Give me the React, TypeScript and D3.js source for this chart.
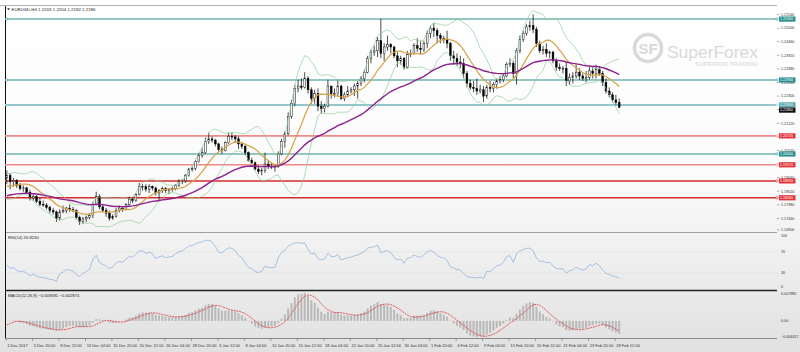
import React, { useEffect, useRef } from 'react';
import * as d3 from 'd3';

// EURUSD H4 chart (grouped as 8-hour bars)
const chartTitle = 'EURUSD,H4 1.2203 1.2204 1.2182 1.2186';
const rsiTitle = 'RSI(14) 26.8230';

// closes of the last bars of November (warm-up for the indicators)
const preCloses = [1.1935, 1.1920, 1.1905, 1.1895, 1.1860, 1.1845, 1.1840, 1.1855, 1.1850, 1.1860, 1.1890, 1.1905];

const closes = [
  1.1915, 1.1890, 1.1895,
  1.1875, 1.1862, 1.1865, 1.1848, 1.1825, 1.1830, 1.1812, 1.1800, 1.1797, 1.1788, 1.1775, 1.1770, 1.1745, 1.1770, 1.1775,
  1.1785, 1.1780, 1.1775, 1.1748, 1.1732, 1.1742, 1.1748, 1.1755, 1.1800, 1.1830, 1.1790, 1.1775, 1.1765, 1.1745, 1.1752,
  1.1775, 1.1785, 1.1780, 1.1800, 1.1820, 1.1815, 1.1840, 1.1870, 1.1870, 1.1860, 1.1870, 1.1865, 1.1845, 1.1855, 1.1862,
  1.1855, 1.1858, 1.1862, 1.1875, 1.1890, 1.1893, 1.1915, 1.1940, 1.1942, 1.1970, 1.1995, 1.2005,
  1.2050, 1.2060, 1.2055, 1.2040, 1.2018, 1.2015, 1.2045, 1.2070, 1.2068, 1.2060, 1.2040, 1.2030,
  1.2005, 1.1975, 1.1965, 1.1940, 1.1930, 1.1935, 1.1960, 1.1950, 1.1950, 1.1950, 1.2000, 1.2050, 1.2080, 1.2150, 1.2200,
  1.2260, 1.2270, 1.2265, 1.2300, 1.2255, 1.2220, 1.2240, 1.2190, 1.2180, 1.2190, 1.2270, 1.2240, 1.2240, 1.2270, 1.2220,
  1.2235, 1.2250, 1.2255, 1.2270, 1.2280, 1.2300, 1.2325, 1.2380, 1.2405, 1.2410, 1.2450, 1.2400, 1.2425, 1.2435, 1.2425,
  1.2390, 1.2370, 1.2380, 1.2345, 1.2395, 1.2400, 1.2430, 1.2420, 1.2415, 1.2440, 1.2480, 1.2500, 1.2490, 1.2470, 1.2460,
  1.2455, 1.2440, 1.2390, 1.2380, 1.2365, 1.2360, 1.2320, 1.2280, 1.2265, 1.2260, 1.2250, 1.2255, 1.2230, 1.2265, 1.2260,
  1.2275, 1.2290, 1.2295, 1.2310, 1.2355, 1.2360, 1.2320, 1.2410, 1.2455, 1.2480, 1.2505, 1.2510, 1.2495, 1.2440, 1.2410,
  1.2415, 1.2400, 1.2405, 1.2370, 1.2345, 1.2340, 1.2340, 1.2290, 1.2305, 1.2310, 1.2325, 1.2310, 1.2300, 1.2305, 1.2330,
  1.2320, 1.2335, 1.2320, 1.2285, 1.2250, 1.2235, 1.2215, 1.2205, 1.2186,
];

const highs = [
  1.1935, 1.1925, 1.1905,
  1.1900, 1.1885, 1.1875, 1.1870, 1.1858, 1.1840, 1.1838, 1.1825, 1.1815, 1.1805, 1.1795, 1.1785, 1.1775, 1.1780, 1.1795,
  1.1790, 1.1800, 1.1790, 1.1780, 1.1755, 1.1750, 1.1755, 1.1765, 1.1810, 1.1850, 1.1840, 1.1800, 1.1785, 1.1775, 1.1760,
  1.1785, 1.1795, 1.1790, 1.1805, 1.1830, 1.1830, 1.1845, 1.1885, 1.1880, 1.1880, 1.1880, 1.1875, 1.1870, 1.1860, 1.1870,
  1.1868, 1.1865, 1.1870, 1.1880, 1.1900, 1.1900, 1.1920, 1.1945, 1.1950, 1.1975, 1.2005, 1.2025,
  1.2065, 1.2085, 1.2070, 1.2060, 1.2045, 1.2030, 1.2050, 1.2085, 1.2085, 1.2075, 1.2070, 1.2045,
  1.2035, 1.2010, 1.1985, 1.1970, 1.1955, 1.1945, 1.2005, 1.1975, 1.1965, 1.1960, 1.2010, 1.2060, 1.2090, 1.2165, 1.2215,
  1.2275, 1.2295, 1.2300, 1.2325, 1.2310, 1.2265, 1.2255, 1.2260, 1.2210, 1.2200, 1.2295, 1.2270, 1.2260, 1.2295, 1.2275,
  1.2245, 1.2270, 1.2265, 1.2280, 1.2290, 1.2310, 1.2335, 1.2390, 1.2415, 1.2430, 1.2465, 1.2537, 1.2440, 1.2470, 1.2440,
  1.2430, 1.2405, 1.2390, 1.2385, 1.2410, 1.2415, 1.2440, 1.2460, 1.2450, 1.2450, 1.2490, 1.2510, 1.2520, 1.2500, 1.2480,
  1.2470, 1.2490, 1.2445, 1.2410, 1.2400, 1.2390, 1.2380, 1.2330, 1.2295, 1.2290, 1.2300, 1.2275, 1.2270, 1.2275, 1.2290,
  1.2285, 1.2300, 1.2310, 1.2320, 1.2365, 1.2380, 1.2370, 1.2420, 1.2470, 1.2490, 1.2515, 1.2530, 1.2555, 1.2505, 1.2450,
  1.2430, 1.2440, 1.2410, 1.2410, 1.2380, 1.2360, 1.2350, 1.2365, 1.2320, 1.2325, 1.2355, 1.2340, 1.2320, 1.2330, 1.2345,
  1.2345, 1.2355, 1.2350, 1.2330, 1.2300, 1.2265, 1.2245, 1.2235, 1.2220,
];

const lows = [
  1.1880, 1.1860, 1.1870,
  1.1865, 1.1855, 1.1850, 1.1840, 1.1815, 1.1815, 1.1805, 1.1792, 1.1790, 1.1780, 1.1765, 1.1760, 1.1730, 1.1735, 1.1765,
  1.1765, 1.1770, 1.1768, 1.1740, 1.1718, 1.1722, 1.1730, 1.1740, 1.1745, 1.1795, 1.1780, 1.1770, 1.1750, 1.1735, 1.1738,
  1.1748, 1.1768, 1.1770, 1.1775, 1.1795, 1.1805, 1.1810, 1.1835, 1.1855, 1.1850, 1.1845, 1.1855, 1.1835, 1.1815, 1.1845,
  1.1845, 1.1840, 1.1850, 1.1855, 1.1870, 1.1880, 1.1885, 1.1910, 1.1930, 1.1935, 1.1965, 1.1985,
  1.2000, 1.2040, 1.2045, 1.2030, 1.2010, 1.2000, 1.2010, 1.2040, 1.2055, 1.2045, 1.2020, 1.2020,
  1.1995, 1.1970, 1.1960, 1.1935, 1.1920, 1.1915, 1.1925, 1.1940, 1.1940, 1.1930, 1.1945, 1.1995, 1.2025, 1.2075, 1.2140,
  1.2190, 1.2245, 1.2255, 1.2260, 1.2240, 1.2200, 1.2200, 1.2170, 1.2160, 1.2165, 1.2185, 1.2220, 1.2225, 1.2230, 1.2215,
  1.2210, 1.2225, 1.2240, 1.2230, 1.2220, 1.2270, 1.2285, 1.2320, 1.2360, 1.2390, 1.2385, 1.2380, 1.2370, 1.2410, 1.2400,
  1.2380, 1.2345, 1.2355, 1.2335, 1.2340, 1.2385, 1.2395, 1.2405, 1.2395, 1.2405, 1.2420, 1.2460, 1.2465, 1.2440, 1.2440,
  1.2440, 1.2420, 1.2370, 1.2355, 1.2350, 1.2340, 1.2300, 1.2265, 1.2255, 1.2245, 1.2235, 1.2240, 1.2206, 1.2220, 1.2245,
  1.2245, 1.2260, 1.2280, 1.2285, 1.2305, 1.2345, 1.2300, 1.2275, 1.2400, 1.2445, 1.2470, 1.2490, 1.2480, 1.2425, 1.2400,
  1.2395, 1.2385, 1.2380, 1.2360, 1.2330, 1.2330, 1.2320, 1.2270, 1.2275, 1.2280, 1.2300, 1.2295, 1.2290, 1.2285, 1.2295,
  1.2300, 1.2300, 1.2310, 1.2270, 1.2240, 1.2225, 1.2205, 1.2195, 1.2182,
];

// level of the slow moving average just before the first bar
const purpleSeed = 1.1830;

const priceTicks = [1.1690, 1.1744, 1.1798, 1.1852, 1.1906, 1.1960, 1.2014, 1.2068, 1.2122,
  1.2176, 1.2230, 1.2284, 1.2338, 1.2392, 1.2446, 1.2500, 1.2554];

const levelPrices = [1.2536, 1.2294, 1.2195, 1.2072, 1.2000, 1.1957, 1.1893, 1.1826];
const levelKinds = ['teal', 'teal', 'pale', 'pink', 'teal', 'pink', 'red', 'red'];
const bidPrice = 1.2186;

const rsiTicks = [100, 70, 30, 0];

const dateLabels = [
  '1 Dec 2017', '5 Dec 20:00', '8 Dec 12:00', '13 Dec 04:00', '15 Dec 20:00', '20 Dec 12:00',
  '26 Dec 04:00', '28 Dec 20:00', '3 Jan 12:00', '8 Jan 04:00', '10 Jan 20:00', '15 Jan 12:00',
  '18 Jan 04:00', '22 Jan 20:00', '25 Jan 12:00', '30 Jan 04:00', '1 Feb 20:00', '6 Feb 12:00',
  '9 Feb 04:00', '13 Feb 20:00', '16 Feb 12:00', '21 Feb 04:00', '23 Feb 20:00', '28 Feb 12:00',
];

const W = 800;
const H = 352;
const FONT = '"Liberation Sans", Arial, sans-serif';

function ema(values: number[], period: number, seed: number) {
  const a = 2 / (period + 1);
  let e = seed;
  return values.map((v) => (e = e + a * (v - e)));
}

function rsiCalc(values: number[], n: number) {
  const out = values.map(() => NaN);
  let g = 0, l = 0;
  for (let i = 1; i <= n; i++) {
    const d = values[i] - values[i - 1];
    if (d > 0) g += d; else l -= d;
  }
  g /= n; l /= n;
  out[n] = 100 - 100 / (1 + g / l);
  for (let i = n + 1; i < values.length; i++) {
    const d = values[i] - values[i - 1];
    g = (g * (n - 1) + Math.max(d, 0)) / n;
    l = (l * (n - 1) + Math.max(-d, 0)) / n;
    out[i] = l === 0 ? 100 : 100 - 100 / (1 + g / l);
  }
  return out;
}

export default function App() {
  const ref = useRef<SVGSVGElement>(null);

  useEffect(() => {
    drawChart();
  }, []);

  function drawChart() {
    const svg = d3.select(ref.current);
    svg.selectAll('*').remove();

    const all = preCloses.concat(closes);
    const off = preCloses.length;
    const n = closes.length;

    // indicators
    const bbPeriod = 10;
    const mid: number[] = [], upper: number[] = [], lower: number[] = [];
    for (let k = 0; k < n; k++) {
      const win = all.slice(k + off - bbPeriod + 1, k + off + 1);
      const m = d3.mean(win) as number;
      const sd = Math.sqrt(d3.mean(win, (v) => (v - m) * (v - m)) as number);
      mid.push(m); upper.push(m + 2 * sd); lower.push(m - 2 * sd);
    }
    const purple = ema(closes, 40, purpleSeed);
    const rsiAll = rsiCalc(all, 10);
    const rsi = rsiAll.slice(off);
    const e6 = ema(all, 6, all[0]);
    const e13 = ema(all, 13, all[0]);
    const macdAll = all.map((_, i) => e6[i] - e13[i]);
    const sigAll = macdAll.map((_, i) => (i < 4 ? NaN : (d3.mean(macdAll.slice(i - 4, i + 1)) as number)));
    const macd = macdAll.slice(off);
    const signal = sigAll.slice(off);

    const x = d3.scaleLinear().domain([0, n - 1]).range([6.8, 619.2]);
    const y = d3.scaleLinear().domain([1.1690, 1.2580]).range([232, 8]);
    const yR = d3.scaleLinear().domain([0, 100]).range([289, 236]);
    const mMin = d3.min(macd) as number;
    const mMax = d3.max(macd) as number;
    const yM = d3.scaleLinear().domain([mMin, mMax]).range([337, 293]);

    const defs = svg.append('defs');
    const grad = defs.append('linearGradient').attr('id', 'bg').attr('x1', 0).attr('y1', 0).attr('x2', 0).attr('y2', 1);
    grad.append('stop').attr('offset', '0%').attr('stop-color', '#ffffff');
    grad.append('stop').attr('offset', '50%').attr('stop-color', '#fbfbfb');
    grad.append('stop').attr('offset', '100%').attr('stop-color', '#e1e1e1');
    defs.append('clipPath').attr('id', 'mainClip').append('rect').attr('x', 5).attr('y', 6).attr('width', 772).attr('height', 226);
    defs.append('clipPath').attr('id', 'rsiClip').append('rect').attr('x', 5).attr('y', 233).attr('width', 772).attr('height', 57);

    svg.append('rect').attr('width', W).attr('height', H).attr('fill', 'url(#bg)');

    // watermark
    const wm = svg.append('g').attr('fill', '#d9d9d9');
    wm.append('circle').attr('cx', 648).attr('cy', 48).attr('r', 13.5)
      .attr('fill', 'none').attr('stroke', '#d9d9d9').attr('stroke-width', 3.5);
    wm.append('text').attr('x', 648).attr('y', 54).attr('text-anchor', 'middle')
      .style('font-family', FONT).style('font-weight', 'bold').style('font-size', '15px').text('SF');
    wm.append('text').attr('x', 667).attr('y', 58).attr('textLength', 91).attr('lengthAdjust', 'spacingAndGlyphs')
      .style('font-family', FONT).style('font-size', '17px').text('SuperForex');
    wm.append('text').attr('x', 695).attr('y', 65.5).attr('textLength', 63).attr('lengthAdjust', 'spacingAndGlyphs')
      .attr('fill', '#dedede').style('font-family', FONT).style('font-weight', 'bold').style('font-size', '5.5px')
      .text('SUPERIOR TRADING');

    // frame
    svg.append('line').attr('x1', 0).attr('x2', 777).attr('y1', 5.5).attr('y2', 5.5).attr('stroke', '#b4b4b4');
    svg.append('line').attr('x1', 5).attr('x2', 777).attr('y1', 232.5).attr('y2', 232.5).attr('stroke', '#a0a0a0');
    svg.append('line').attr('x1', 5).attr('x2', 777).attr('y1', 290.5).attr('y2', 290.5).attr('stroke', '#222').attr('stroke-width', 1.6);
    svg.append('line').attr('x1', 5).attr('x2', 777).attr('y1', 338.5).attr('y2', 338.5).attr('stroke', '#8a8a8a');
    svg.append('line').attr('x1', 5.5).attr('x2', 5.5).attr('y1', 6).attr('y2', 338).attr('stroke', '#111');

    // price axis labels
    const axisG = svg.append('g').style('font-family', FONT).style('font-size', '3.7px').attr('fill', '#333');
    priceTicks.forEach((p) => {
      const ty = Math.min(y(p), 229.8);
      axisG.append('line').attr('x1', 777).attr('x2', 779.5).attr('y1', ty).attr('y2', ty).attr('stroke', '#666').attr('stroke-width', 0.5);
      axisG.append('text').attr('x', 781).attr('y', ty + 1.3).text(d3.format('.5f')(p));
    });

    // horizontal levels
    const levelColor: Record<string, string> = { teal: '#2a8f8c', pale: '#94c7cc', pink: '#ee8a8a', red: '#d42c2c' };
    const boxColor: Record<string, string> = { teal: '#2a8f8c', pale: '#5aa9ad', pink: '#e3343a', red: '#e3343a' };
    const levelWidth: Record<string, number> = { teal: 1.1, pale: 2, pink: 1.6, red: 1.5 };
    const lv = svg.append('g');
    levelPrices.forEach((p, i) => {
      const kind = levelKinds[i];
      lv.append('line').attr('x1', 5).attr('x2', 777).attr('y1', y(p)).attr('y2', y(p))
        .attr('stroke', levelColor[kind]).attr('stroke-width', levelWidth[kind]);
      lv.append('circle').attr('cx', 777).attr('cy', y(p)).attr('r', 1.2).attr('fill', '#fff').attr('stroke', levelColor[kind]).attr('stroke-width', 0.6);
      if (i < 2) lv.append('circle').attr('cx', 6.5).attr('cy', y(p)).attr('r', 1.2).attr('fill', '#fff').attr('stroke', levelColor[kind]).attr('stroke-width', 0.6);
    });

    // main chart
    const main = svg.append('g').attr('clip-path', 'url(#mainClip)');
    const candles = main.append('g');
    closes.forEach((c, k) => {
      const o = k === 0 ? preCloses[preCloses.length - 1] : closes[k - 1];
      const hi = Math.max(highs[k], o, c);
      const lo = Math.min(lows[k], o, c);
      candles.append('line').attr('x1', x(k)).attr('x2', x(k)).attr('y1', y(hi)).attr('y2', y(lo))
        .attr('stroke', '#000').attr('stroke-width', 0.7);
      const top = y(Math.max(o, c));
      const h = Math.max(0.7, y(Math.min(o, c)) - top);
      candles.append('rect').attr('x', x(k) - 0.9).attr('y', top).attr('width', 1.8).attr('height', h)
        .attr('fill', c >= o ? '#fff' : '#000').attr('stroke', '#000').attr('stroke-width', 0.45);
    });

    const line = (vals: number[], sy: d3.ScaleLinear<number, number>) =>
      d3.line<number>().defined((v) => !isNaN(v)).x((_, i) => x(i)).y((v) => sy(v)).curve(d3.curveLinear)(vals);

    main.append('path').attr('d', line(upper, y)).attr('fill', 'none').attr('stroke', '#8fcf98').attr('stroke-width', 0.7);
    main.append('path').attr('d', line(lower, y)).attr('fill', 'none').attr('stroke', '#8fcf98').attr('stroke-width', 0.7);
    main.append('path').attr('d', line(mid, y)).attr('fill', 'none').attr('stroke', '#d6a145').attr('stroke-width', 1.2);
    main.append('path').attr('d', line(purple, y)).attr('fill', 'none').attr('stroke', '#8e1f8e').attr('stroke-width', 1.4);

    // price boxes
    const boxes = svg.append('g').style('font-family', FONT).style('font-size', '3.6px');
    levelPrices.forEach((p, i) => {
      const kind = levelKinds[i];
      boxes.append('rect').attr('x', 779).attr('y', y(p) - 2.6).attr('width', 16.5).attr('height', 5.2).attr('fill', boxColor[kind]);
      boxes.append('text').attr('x', 780).attr('y', y(p) + 1.3).attr('fill', '#fff').text(d3.format('.5f')(p));
    });
    const bidY = Math.max(y(bidPrice), y(levelPrices[2]) + 5.2);
    boxes.append('rect').attr('x', 779).attr('y', bidY - 2.6).attr('width', 16.5).attr('height', 5.2).attr('fill', '#111');
    boxes.append('text').attr('x', 780).attr('y', bidY + 1.3).attr('fill', '#fff').text(d3.format('.5f')(bidPrice));

    // title
    svg.append('path').attr('d', 'M7,8.2 L10,8.2 L8.5,10.2 Z').attr('fill', '#333');
    svg.append('text').attr('x', 11.5).attr('y', 10.5).style('font-family', FONT).style('font-size', '4.4px').attr('fill', '#222').text(chartTitle);

    // RSI panel
    const rg = svg.append('g');
    [70, 30].forEach((v) => {
      rg.append('line').attr('x1', 6).attr('x2', 777).attr('y1', yR(v)).attr('y2', yR(v))
        .attr('stroke', '#cfcfcf').attr('stroke-width', 0.5).attr('stroke-dasharray', '1,1');
    });
    rg.append('path').attr('clip-path', 'url(#rsiClip)').attr('d', line(rsi, yR)).attr('fill', 'none').attr('stroke', '#86aedc').attr('stroke-width', 0.7);
    rg.append('text').attr('x', 8).attr('y', 239).style('font-family', FONT).style('font-size', '4.2px').attr('fill', '#222').text(rsiTitle);
    const rsiLabelY = [236.8, 253, 274, 287.5];
    rsiTicks.forEach((v, i) => {
      rg.append('text').attr('x', 781).attr('y', rsiLabelY[i]).style('font-family', FONT).style('font-size', '3.7px').attr('fill', '#333').text(String(v));
    });

    // MACD panel
    const mg = svg.append('g');
    macd.forEach((v, k) => {
      const y0 = yM(0), y1 = yM(v);
      mg.append('rect').attr('x', x(k) - 1).attr('width', 2).attr('y', Math.min(y0, y1)).attr('height', Math.abs(y1 - y0))
        .attr('fill', '#b9b9b9');
    });
    mg.append('path').attr('d', line(signal, yM)).attr('fill', 'none').attr('stroke', '#e23434')
      .attr('stroke-width', 0.8).attr('stroke-dasharray', '2,0.8');
    const f6 = d3.format('.6f');
    mg.append('text').attr('x', 8).attr('y', 296.5).style('font-family', FONT).style('font-size', '4.2px').attr('fill', '#222')
      .text(`MACD(12,26,9) ${f6(macd[n - 1])} ${f6(signal[n - 1])}`);
    const mLabels: [number, string][] = [[yM(mMax) + 1.8, f6(mMax)], [yM(0) + 1.3, '0.00'], [yM(mMin) + 0.5, f6(mMin)]];
    mLabels.forEach(([yy, t]) => {
      mg.append('text').attr('x', 781).attr('y', yy).style('font-family', FONT).style('font-size', '3.7px').attr('fill', '#333').text(t);
    });

    // time axis
    const tg = svg.append('g').style('font-family', FONT).style('font-size', '4px').attr('fill', '#333');
    dateLabels.forEach((t, j) => {
      const tx = x(j * 8) - 0.8;
      tg.append('line').attr('x1', tx).attr('x2', tx).attr('y1', 338.5).attr('y2', 341).attr('stroke', '#555').attr('stroke-width', 0.5);
      tg.append('text').attr('x', tx + 1.2).attr('y', 346.5).text(t);
    });
  }

  return (
    <svg ref={ref} width={W} height={H} style={{ position: 'fixed', left: 0, top: 0, display: 'block' }} />
  );
}
